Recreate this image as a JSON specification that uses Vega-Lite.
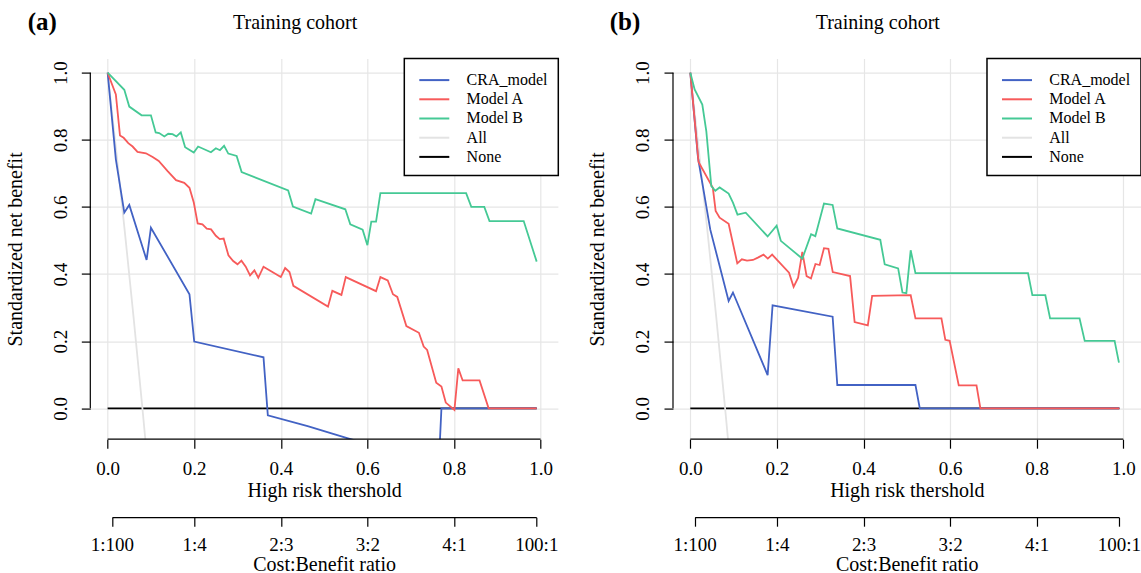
{
  "$schema": "https://vega.github.io/schema/vega-lite/v6.json",
  "padding": {"left": 5.3, "top": 9.6, "right": 0, "bottom": 0},
  "datasets": {
    "curves": [
      {"p":"a","s":"None","x":0,"y":0},{"p":"a","s":"None","x":0.991,"y":0},
      {"p":"a","s":"All","x":0,"y":1},{"p":"a","s":"All","x":0.02,"y":0.766},{"p":"a","s":"All","x":0.04,"y":0.523},{"p":"a","s":"All","x":0.06,"y":0.27},{"p":"a","s":"All","x":0.08,"y":0.005},{"p":"a","s":"All","x":0.1,"y":-0.271},
      {"p":"a","s":"CRA_model","x":0,"y":1},{"p":"a","s":"CRA_model","x":0.019,"y":0.742},{"p":"a","s":"CRA_model","x":0.0385,"y":0.583},{"p":"a","s":"CRA_model","x":0.05,"y":0.606},{"p":"a","s":"CRA_model","x":0.09,"y":0.442},{"p":"a","s":"CRA_model","x":0.1,"y":0.538},{"p":"a","s":"CRA_model","x":0.189,"y":0.34},{"p":"a","s":"CRA_model","x":0.2,"y":0.199},{"p":"a","s":"CRA_model","x":0.36,"y":0.152},{"p":"a","s":"CRA_model","x":0.37,"y":-0.021},{"p":"a","s":"CRA_model","x":0.462,"y":-0.053},{"p":"a","s":"CRA_model","x":0.557,"y":-0.09},{"p":"a","s":"CRA_model","x":0.65,"y":-0.125},{"p":"a","s":"CRA_model","x":0.765,"y":-0.165},{"p":"a","s":"CRA_model","x":0.771,"y":0},{"p":"a","s":"CRA_model","x":0.991,"y":0},
      {"p":"a","s":"Model A","x":0,"y":1},{"p":"a","s":"Model A","x":0.019,"y":0.935},{"p":"a","s":"Model A","x":0.0285,"y":0.813},{"p":"a","s":"Model A","x":0.037,"y":0.806},{"p":"a","s":"Model A","x":0.0477,"y":0.79},{"p":"a","s":"Model A","x":0.0577,"y":0.78},{"p":"a","s":"Model A","x":0.069,"y":0.764},{"p":"a","s":"Model A","x":0.0885,"y":0.76},{"p":"a","s":"Model A","x":0.104,"y":0.749},{"p":"a","s":"Model A","x":0.118,"y":0.737},{"p":"a","s":"Model A","x":0.1386,"y":0.707},{"p":"a","s":"Model A","x":0.158,"y":0.68},{"p":"a","s":"Model A","x":0.177,"y":0.672},{"p":"a","s":"Model A","x":0.189,"y":0.657},{"p":"a","s":"Model A","x":0.199,"y":0.613},{"p":"a","s":"Model A","x":0.208,"y":0.551},{"p":"a","s":"Model A","x":0.219,"y":0.548},{"p":"a","s":"Model A","x":0.229,"y":0.535},{"p":"a","s":"Model A","x":0.239,"y":0.533},{"p":"a","s":"Model A","x":0.25,"y":0.514},{"p":"a","s":"Model A","x":0.259,"y":0.504},{"p":"a","s":"Model A","x":0.268,"y":0.506},{"p":"a","s":"Model A","x":0.279,"y":0.456},{"p":"a","s":"Model A","x":0.29,"y":0.439},{"p":"a","s":"Model A","x":0.3,"y":0.429},{"p":"a","s":"Model A","x":0.309,"y":0.44},{"p":"a","s":"Model A","x":0.319,"y":0.422},{"p":"a","s":"Model A","x":0.329,"y":0.396},{"p":"a","s":"Model A","x":0.339,"y":0.411},{"p":"a","s":"Model A","x":0.348,"y":0.389},{"p":"a","s":"Model A","x":0.36,"y":0.422},{"p":"a","s":"Model A","x":0.4,"y":0.391},{"p":"a","s":"Model A","x":0.41,"y":0.418},{"p":"a","s":"Model A","x":0.42,"y":0.406},{"p":"a","s":"Model A","x":0.429,"y":0.365},{"p":"a","s":"Model A","x":0.509,"y":0.303},{"p":"a","s":"Model A","x":0.519,"y":0.35},{"p":"a","s":"Model A","x":0.54,"y":0.338},{"p":"a","s":"Model A","x":0.55,"y":0.391},{"p":"a","s":"Model A","x":0.62,"y":0.349},{"p":"a","s":"Model A","x":0.63,"y":0.391},{"p":"a","s":"Model A","x":0.647,"y":0.381},{"p":"a","s":"Model A","x":0.659,"y":0.34},{"p":"a","s":"Model A","x":0.669,"y":0.332},{"p":"a","s":"Model A","x":0.69,"y":0.245},{"p":"a","s":"Model A","x":0.719,"y":0.225},{"p":"a","s":"Model A","x":0.73,"y":0.184},{"p":"a","s":"Model A","x":0.738,"y":0.174},{"p":"a","s":"Model A","x":0.759,"y":0.076},{"p":"a","s":"Model A","x":0.771,"y":0.065},{"p":"a","s":"Model A","x":0.781,"y":0.017},{"p":"a","s":"Model A","x":0.801,"y":-0.005},{"p":"a","s":"Model A","x":0.81,"y":0.119},{"p":"a","s":"Model A","x":0.82,"y":0.083},{"p":"a","s":"Model A","x":0.859,"y":0.083},{"p":"a","s":"Model A","x":0.88,"y":0},{"p":"a","s":"Model A","x":0.991,"y":0},
      {"p":"a","s":"Model B","x":0,"y":1},{"p":"a","s":"Model B","x":0.0385,"y":0.949},{"p":"a","s":"Model B","x":0.05,"y":0.899},{"p":"a","s":"Model B","x":0.0785,"y":0.873},{"p":"a","s":"Model B","x":0.1,"y":0.873},{"p":"a","s":"Model B","x":0.111,"y":0.822},{"p":"a","s":"Model B","x":0.119,"y":0.82},{"p":"a","s":"Model B","x":0.131,"y":0.81},{"p":"a","s":"Model B","x":0.14,"y":0.818},{"p":"a","s":"Model B","x":0.15,"y":0.817},{"p":"a","s":"Model B","x":0.159,"y":0.81},{"p":"a","s":"Model B","x":0.169,"y":0.822},{"p":"a","s":"Model B","x":0.179,"y":0.778},{"p":"a","s":"Model B","x":0.199,"y":0.762},{"p":"a","s":"Model B","x":0.209,"y":0.78},{"p":"a","s":"Model B","x":0.2386,"y":0.763},{"p":"a","s":"Model B","x":0.25,"y":0.775},{"p":"a","s":"Model B","x":0.2594,"y":0.769},{"p":"a","s":"Model B","x":0.269,"y":0.782},{"p":"a","s":"Model B","x":0.2787,"y":0.759},{"p":"a","s":"Model B","x":0.298,"y":0.752},{"p":"a","s":"Model B","x":0.3095,"y":0.704},{"p":"a","s":"Model B","x":0.417,"y":0.649},{"p":"a","s":"Model B","x":0.428,"y":0.601},{"p":"a","s":"Model B","x":0.47,"y":0.58},{"p":"a","s":"Model B","x":0.48,"y":0.623},{"p":"a","s":"Model B","x":0.549,"y":0.593},{"p":"a","s":"Model B","x":0.5605,"y":0.548},{"p":"a","s":"Model B","x":0.589,"y":0.532},{"p":"a","s":"Model B","x":0.6,"y":0.486},{"p":"a","s":"Model B","x":0.609,"y":0.556},{"p":"a","s":"Model B","x":0.62,"y":0.556},{"p":"a","s":"Model B","x":0.63,"y":0.641},{"p":"a","s":"Model B","x":0.828,"y":0.641},{"p":"a","s":"Model B","x":0.84,"y":0.6},{"p":"a","s":"Model B","x":0.87,"y":0.6},{"p":"a","s":"Model B","x":0.882,"y":0.558},{"p":"a","s":"Model B","x":0.961,"y":0.558},{"p":"a","s":"Model B","x":0.991,"y":0.437},
      {"p":"b","s":"None","x":0,"y":0},{"p":"b","s":"None","x":0.991,"y":0},
      {"p":"b","s":"All","x":0,"y":1},{"p":"b","s":"All","x":0.02,"y":0.766},{"p":"b","s":"All","x":0.04,"y":0.523},{"p":"b","s":"All","x":0.06,"y":0.27},{"p":"b","s":"All","x":0.08,"y":0.005},{"p":"b","s":"All","x":0.1,"y":-0.271},
      {"p":"b","s":"CRA_model","x":0,"y":1},{"p":"b","s":"CRA_model","x":0.0177,"y":0.747},{"p":"b","s":"CRA_model","x":0.046,"y":0.533},{"p":"b","s":"CRA_model","x":0.0885,"y":0.32},{"p":"b","s":"CRA_model","x":0.0985,"y":0.345},{"p":"b","s":"CRA_model","x":0.1786,"y":0.099},{"p":"b","s":"CRA_model","x":0.19,"y":0.307},{"p":"b","s":"CRA_model","x":0.3287,"y":0.273},{"p":"b","s":"CRA_model","x":0.3395,"y":0.0695},{"p":"b","s":"CRA_model","x":0.52,"y":0.0695},{"p":"b","s":"CRA_model","x":0.53,"y":0},{"p":"b","s":"CRA_model","x":0.991,"y":0},
      {"p":"b","s":"Model A","x":0,"y":1},{"p":"b","s":"Model A","x":0.019,"y":0.734},{"p":"b","s":"Model A","x":0.052,"y":0.657},{"p":"b","s":"Model A","x":0.0585,"y":0.588},{"p":"b","s":"Model A","x":0.0677,"y":0.568},{"p":"b","s":"Model A","x":0.0885,"y":0.55},{"p":"b","s":"Model A","x":0.1085,"y":0.432},{"p":"b","s":"Model A","x":0.119,"y":0.444},{"p":"b","s":"Model A","x":0.131,"y":0.44},{"p":"b","s":"Model A","x":0.1447,"y":0.442},{"p":"b","s":"Model A","x":0.156,"y":0.449},{"p":"b","s":"Model A","x":0.169,"y":0.458},{"p":"b","s":"Model A","x":0.179,"y":0.446},{"p":"b","s":"Model A","x":0.189,"y":0.458},{"p":"b","s":"Model A","x":0.228,"y":0.404},{"p":"b","s":"Model A","x":0.2386,"y":0.362},{"p":"b","s":"Model A","x":0.249,"y":0.389},{"p":"b","s":"Model A","x":0.2587,"y":0.466},{"p":"b","s":"Model A","x":0.2686,"y":0.394},{"p":"b","s":"Model A","x":0.2787,"y":0.387},{"p":"b","s":"Model A","x":0.289,"y":0.43},{"p":"b","s":"Model A","x":0.2987,"y":0.427},{"p":"b","s":"Model A","x":0.3087,"y":0.477},{"p":"b","s":"Model A","x":0.319,"y":0.475},{"p":"b","s":"Model A","x":0.329,"y":0.406},{"p":"b","s":"Model A","x":0.369,"y":0.394},{"p":"b","s":"Model A","x":0.3795,"y":0.257},{"p":"b","s":"Model A","x":0.41,"y":0.247},{"p":"b","s":"Model A","x":0.42,"y":0.335},{"p":"b","s":"Model A","x":0.509,"y":0.337},{"p":"b","s":"Model A","x":0.52,"y":0.268},{"p":"b","s":"Model A","x":0.58,"y":0.268},{"p":"b","s":"Model A","x":0.589,"y":0.204},{"p":"b","s":"Model A","x":0.599,"y":0.201},{"p":"b","s":"Model A","x":0.62,"y":0.0685},{"p":"b","s":"Model A","x":0.661,"y":0.0685},{"p":"b","s":"Model A","x":0.67,"y":0},{"p":"b","s":"Model A","x":0.991,"y":0},
      {"p":"b","s":"Model B","x":0,"y":1},{"p":"b","s":"Model B","x":0.01,"y":0.95},{"p":"b","s":"Model B","x":0.0277,"y":0.905},{"p":"b","s":"Model B","x":0.037,"y":0.825},{"p":"b","s":"Model B","x":0.0485,"y":0.662},{"p":"b","s":"Model B","x":0.0577,"y":0.648},{"p":"b","s":"Model B","x":0.0677,"y":0.658},{"p":"b","s":"Model B","x":0.0885,"y":0.64},{"p":"b","s":"Model B","x":0.0985,"y":0.613},{"p":"b","s":"Model B","x":0.109,"y":0.577},{"p":"b","s":"Model B","x":0.128,"y":0.583},{"p":"b","s":"Model B","x":0.1786,"y":0.512},{"p":"b","s":"Model B","x":0.1994,"y":0.544},{"p":"b","s":"Model B","x":0.209,"y":0.499},{"p":"b","s":"Model B","x":0.2587,"y":0.446},{"p":"b","s":"Model B","x":0.279,"y":0.519},{"p":"b","s":"Model B","x":0.2887,"y":0.513},{"p":"b","s":"Model B","x":0.3087,"y":0.61},{"p":"b","s":"Model B","x":0.3287,"y":0.606},{"p":"b","s":"Model B","x":0.3395,"y":0.536},{"p":"b","s":"Model B","x":0.4388,"y":0.502},{"p":"b","s":"Model B","x":0.449,"y":0.429},{"p":"b","s":"Model B","x":0.48,"y":0.417},{"p":"b","s":"Model B","x":0.49,"y":0.345},{"p":"b","s":"Model B","x":0.499,"y":0.343},{"p":"b","s":"Model B","x":0.509,"y":0.471},{"p":"b","s":"Model B","x":0.52,"y":0.403},{"p":"b","s":"Model B","x":0.78,"y":0.403},{"p":"b","s":"Model B","x":0.79,"y":0.337},{"p":"b","s":"Model B","x":0.82,"y":0.337},{"p":"b","s":"Model B","x":0.831,"y":0.268},{"p":"b","s":"Model B","x":0.899,"y":0.268},{"p":"b","s":"Model B","x":0.911,"y":0.201},{"p":"b","s":"Model B","x":0.98,"y":0.201},{"p":"b","s":"Model B","x":0.99,"y":0.136}
    ],
    "cb": [
      {"t":0.01},{"t":0.2},{"t":0.4},{"t":0.6},{"t":0.8},{"t":0.99}
    ]
  },
  "spacing": 114.7,
  "bounds": "flush",
  "resolve": {"scale": {"color": "independent"}, "legend": {"color": "independent"}},
  "hconcat": [
    {
      "width": 467.6, "height": 380.6,
      "title": {"text": "Training cohort"},
      "resolve": {"scale": {"x": "independent"}, "axis": {"x": "independent"}},
      "layer": [
        {
          "layer": [
            {
              "data": {"name": "curves"},
              "transform": [{"filter": "datum.p == 'a' && (datum.s == 'All' || datum.s == 'None')"}],
              "mark": {"type": "line", "clip": true, "strokeWidth": 1.8},
              "encoding": {
                "x": {"field": "x", "type": "quantitative", "scale": {"domain": [-0.04, 1.04], "nice": false, "zero": false},
                      "axis": {"values": [0, 0.2, 0.4, 0.6, 0.8, 1], "format": ".1f", "domain": false, "grid": true, "title": "High risk thershold", "labelPadding": 11, "titlePadding": 2}},
                "y": {"field": "y", "type": "quantitative", "scale": {"domain": [-0.092, 1.042], "nice": false, "zero": false},
                      "axis": {"values": [0, 0.2, 0.4, 0.6, 0.8, 1], "format": ".1f", "domain": false, "grid": true, "title": "Standardized net benefit", "labelAngle": -90, "labelAlign": "center", "labelBaseline": "bottom", "labelPadding": 11, "titlePadding": 26}},
                "color": {"field": "s", "type": "nominal",
                          "scale": {"domain": ["CRA_model", "Model A", "Model B", "All", "None"], "range": ["#4262C4", "#F75A5A", "#45C995", "#E3E3E3", "#000000"]},
                          "legend": {"title": null, "orient": "top-right", "offset": 0}}
              }
            },
            {
              "data": {"name": "curves"},
              "transform": [{"filter": "datum.p == 'a' && datum.s != 'All' && datum.s != 'None'"}],
              "mark": {"type": "line", "clip": true, "strokeWidth": 1.8},
              "encoding": {
                "x": {"field": "x", "type": "quantitative"},
                "y": {"field": "y", "type": "quantitative"},
                "color": {"field": "s", "type": "nominal"}
              }
            },
            {
              "data": {"values": [{"k": 1}]},
              "mark": {"type": "rule", "color": "black", "strokeWidth": 1.2},
              "encoding": {"x": {"datum": 0}, "x2": {"datum": 1}, "y": {"datum": -0.092}}
            },
            {
              "data": {"values": [{"k": 1}]},
              "mark": {"type": "rule", "color": "black", "strokeWidth": 1.2},
              "encoding": {"x": {"datum": -0.04}, "y": {"datum": 0}, "y2": {"datum": 1}}
            },
            {
              "data": {"values": [{"label": "(a)"}]},
              "mark": {"type": "text", "font": "Liberation Serif", "fontWeight": "bold", "fontSize": 25, "align": "center", "baseline": "alphabetic"},
              "encoding": {"x": {"datum": -0.151}, "y": {"datum": 1.127}, "text": {"field": "label"}}
            }
          ]
        },
        {
          "data": {"name": "cb"},
          "mark": {"type": "point", "opacity": 0},
          "encoding": {
            "x": {"field": "t", "type": "quantitative", "scale": {"domain": [0.01, 0.99], "range": [21.65, 445.96], "nice": false, "zero": false},
                  "axis": {"orient": "bottom", "offset": 78, "values": [0.01, 0.2, 0.4, 0.6, 0.8, 0.99], "grid": false, "domain": true, "title": "Cost:Benefit ratio", "labelPadding": 9, "titlePadding": 0,
                           "labelExpr": "datum.value < 0.1 ? '1:100' : datum.value < 0.3 ? '1:4' : datum.value < 0.5 ? '2:3' : datum.value < 0.7 ? '3:2' : datum.value < 0.9 ? '4:1' : '100:1'"}}
          }
        }
      ]
    },
    {
      "width": 467.6, "height": 380.6,
      "title": {"text": "Training cohort"},
      "resolve": {"scale": {"x": "independent"}, "axis": {"x": "independent"}},
      "layer": [
        {
          "layer": [
            {
              "data": {"name": "curves"},
              "transform": [{"filter": "datum.p == 'b' && (datum.s == 'All' || datum.s == 'None')"}],
              "mark": {"type": "line", "clip": true, "strokeWidth": 1.8},
              "encoding": {
                "x": {"field": "x", "type": "quantitative", "scale": {"domain": [-0.04, 1.04], "nice": false, "zero": false},
                      "axis": {"values": [0, 0.2, 0.4, 0.6, 0.8, 1], "format": ".1f", "domain": false, "grid": true, "title": "High risk thershold", "labelPadding": 11, "titlePadding": 2}},
                "y": {"field": "y", "type": "quantitative", "scale": {"domain": [-0.092, 1.042], "nice": false, "zero": false},
                      "axis": {"values": [0, 0.2, 0.4, 0.6, 0.8, 1], "format": ".1f", "domain": false, "grid": true, "title": "Standardized net benefit", "labelAngle": -90, "labelAlign": "center", "labelBaseline": "bottom", "labelPadding": 11, "titlePadding": 26}},
                "color": {"field": "s", "type": "nominal",
                          "scale": {"domain": ["CRA_model", "Model A", "Model B", "All", "None"], "range": ["#4262C4", "#F75A5A", "#45C995", "#E3E3E3", "#000000"]},
                          "legend": {"title": null, "orient": "top-right", "offset": 0}}
              }
            },
            {
              "data": {"name": "curves"},
              "transform": [{"filter": "datum.p == 'b' && datum.s != 'All' && datum.s != 'None'"}],
              "mark": {"type": "line", "clip": true, "strokeWidth": 1.8},
              "encoding": {
                "x": {"field": "x", "type": "quantitative"},
                "y": {"field": "y", "type": "quantitative"},
                "color": {"field": "s", "type": "nominal"}
              }
            },
            {
              "data": {"values": [{"k": 1}]},
              "mark": {"type": "rule", "color": "black", "strokeWidth": 1.2},
              "encoding": {"x": {"datum": 0}, "x2": {"datum": 1}, "y": {"datum": -0.092}}
            },
            {
              "data": {"values": [{"k": 1}]},
              "mark": {"type": "rule", "color": "black", "strokeWidth": 1.2},
              "encoding": {"x": {"datum": -0.04}, "y": {"datum": 0}, "y2": {"datum": 1}}
            },
            {
              "data": {"values": [{"label": "(b)"}]},
              "mark": {"type": "text", "font": "Liberation Serif", "fontWeight": "bold", "fontSize": 25, "align": "center", "baseline": "alphabetic"},
              "encoding": {"x": {"datum": -0.151}, "y": {"datum": 1.127}, "text": {"field": "label"}}
            }
          ]
        },
        {
          "data": {"name": "cb"},
          "mark": {"type": "point", "opacity": 0},
          "encoding": {
            "x": {"field": "t", "type": "quantitative", "scale": {"domain": [0.01, 0.99], "range": [21.65, 445.96], "nice": false, "zero": false},
                  "axis": {"orient": "bottom", "offset": 78, "values": [0.01, 0.2, 0.4, 0.6, 0.8, 0.99], "grid": false, "domain": true, "title": "Cost:Benefit ratio", "labelPadding": 9, "titlePadding": 0,
                           "labelExpr": "datum.value < 0.1 ? '1:100' : datum.value < 0.3 ? '1:4' : datum.value < 0.5 ? '2:3' : datum.value < 0.7 ? '3:2' : datum.value < 0.9 ? '4:1' : '100:1'"}}
          }
        }
      ]
    }
  ],
  "config": {
    "font": "Liberation Serif",
    "view": {"stroke": null},
    "axis": {
      "labelFont": "Liberation Serif", "titleFont": "Liberation Serif",
      "labelFontSize": 19, "titleFontSize": 20, "titleFontWeight": "normal",
      "labelColor": "black", "titleColor": "black",
      "tickColor": "black", "domainColor": "black", "tickSize": 9, "tickWidth": 1.2, "domainWidth": 1.2,
      "gridColor": "#E6E6E6", "gridWidth": 1.2,
      "labelFlush": false, "labelOverlap": false
    },
    "legend": {
      "labelFont": "Liberation Serif", "labelFontSize": 16, "labelColor": "black",
      "symbolType": "M-1.5,0H1.5", "symbolSize": 400, "symbolStrokeWidth": 2, "symbolOffset": 8.5,
      "labelOffset": 21.3, "rowPadding": 0.2, "padding": 10.5,
      "fillColor": "white", "strokeColor": "black", "strokeWidth": 1.5
    },
    "title": {"font": "Liberation Serif", "fontSize": 20, "fontWeight": "normal", "color": "black", "offset": -23, "dx": -29, "anchor": "middle"}
  }
}
